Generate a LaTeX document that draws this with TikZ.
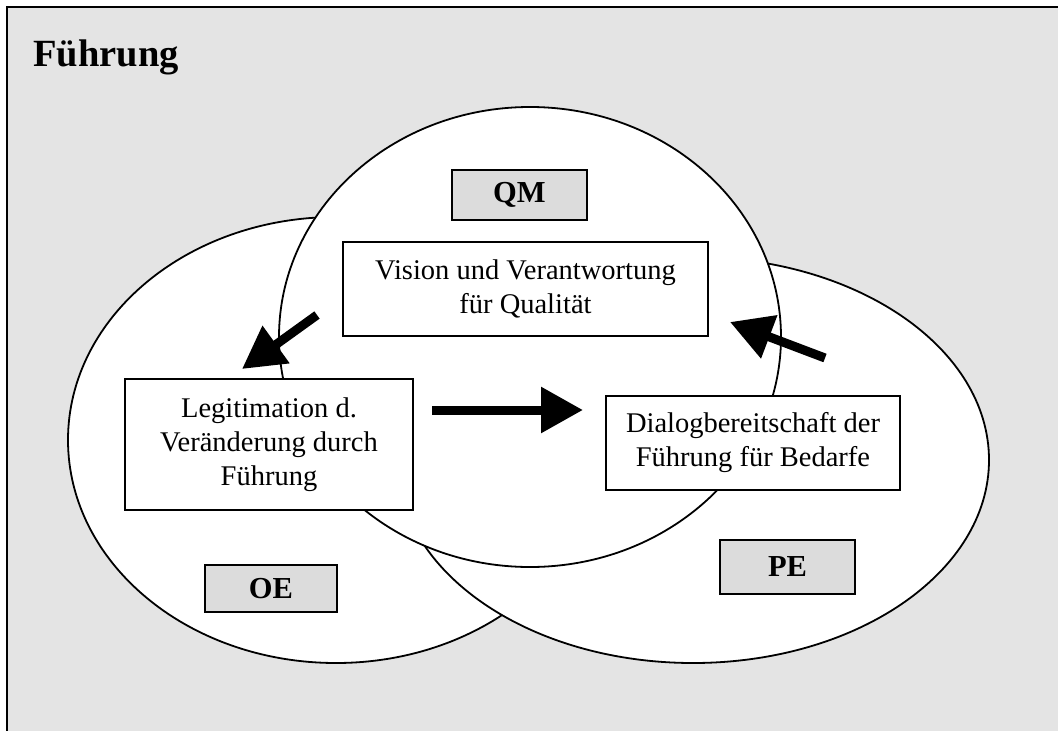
\documentclass[tikz,border=0pt]{standalone}
\usepackage{fontspec}
\setmainfont{Liberation Serif}
\usetikzlibrary{arrows.meta}
\definecolor{panelgray}{RGB}{228,228,228}
\definecolor{taggray}{RGB}{220,220,220}
\begin{document}
\begin{tikzpicture}[x=1pt,y=-1pt,
  ring/.style={draw=black,line width=1.8pt,fill=white},
  textbox/.style={draw=black,line width=1.4pt,fill=white,rectangle,inner sep=0pt,
    align=center,font=\fontsize{28.5}{34}\selectfont},
  tagbox/.style={draw=black,line width=1.4pt,fill=taggray,rectangle,inner sep=0pt,
    font=\fontsize{30.5}{33}\selectfont\bfseries},
  bigarrow/.style={line width=9pt,-{Triangle[length=42pt,width=44pt]}}]
\useasboundingbox (0,0) rectangle (1058,731);
% panel
\fill[white] (0,0) rectangle (1058,731);
\fill[panelgray] (7,7) rectangle (1070,745);
\draw[line width=2.6pt] (7,745) -- (7,7) -- (1070,7);
\node[anchor=base west,inner sep=0pt,font=\fontsize{38.5}{40}\selectfont\bfseries] (title) at (33,66) {Führung};
% three overlapping areas
\draw[ring] (336,440) ellipse [x radius=268pt, y radius=223pt];
\draw[ring] (693,460) ellipse [x radius=296pt, y radius=203pt];
\draw[ring] (530,337) ellipse [x radius=251pt, y radius=230pt];
% tags
\node[tagbox,minimum width=135pt,minimum height=50pt] (qm) at (519.5,195) {QM};
\node[tagbox,minimum width=132pt,minimum height=47pt] (oe) at (271,588.5) {OE};
\node[tagbox,minimum width=135pt,minimum height=54pt] (pe) at (787.5,567) {PE};
% statements
\node[textbox,minimum width=365pt,minimum height=94pt] (vision) at (525.5,289)
  {Vision und Verantwortung\\für Qualität};
\node[textbox,minimum width=288pt,minimum height=131pt] (legit) at (269,444.5)
  {Legitimation d.\\Veränderung durch\\Führung};
\node[textbox,minimum width=294pt,minimum height=94pt] (dialog) at (753,443)
  {Dialogbereitschaft der\\Führung für Bedarfe};
% arrow ends
\coordinate (a1s) at (317,315);
\coordinate (a1e) at (242,369);
\coordinate (a2s) at (432,410);
\coordinate (a2e) at (583,410);
\coordinate (a3s) at (825,358);
\coordinate (a3e) at (730,322);
\draw[bigarrow] (a1s) -- (a1e);
\draw[bigarrow] (a2s) -- (a2e);
\draw[bigarrow] (a3s) -- (a3e);
\end{tikzpicture}
\end{document}
